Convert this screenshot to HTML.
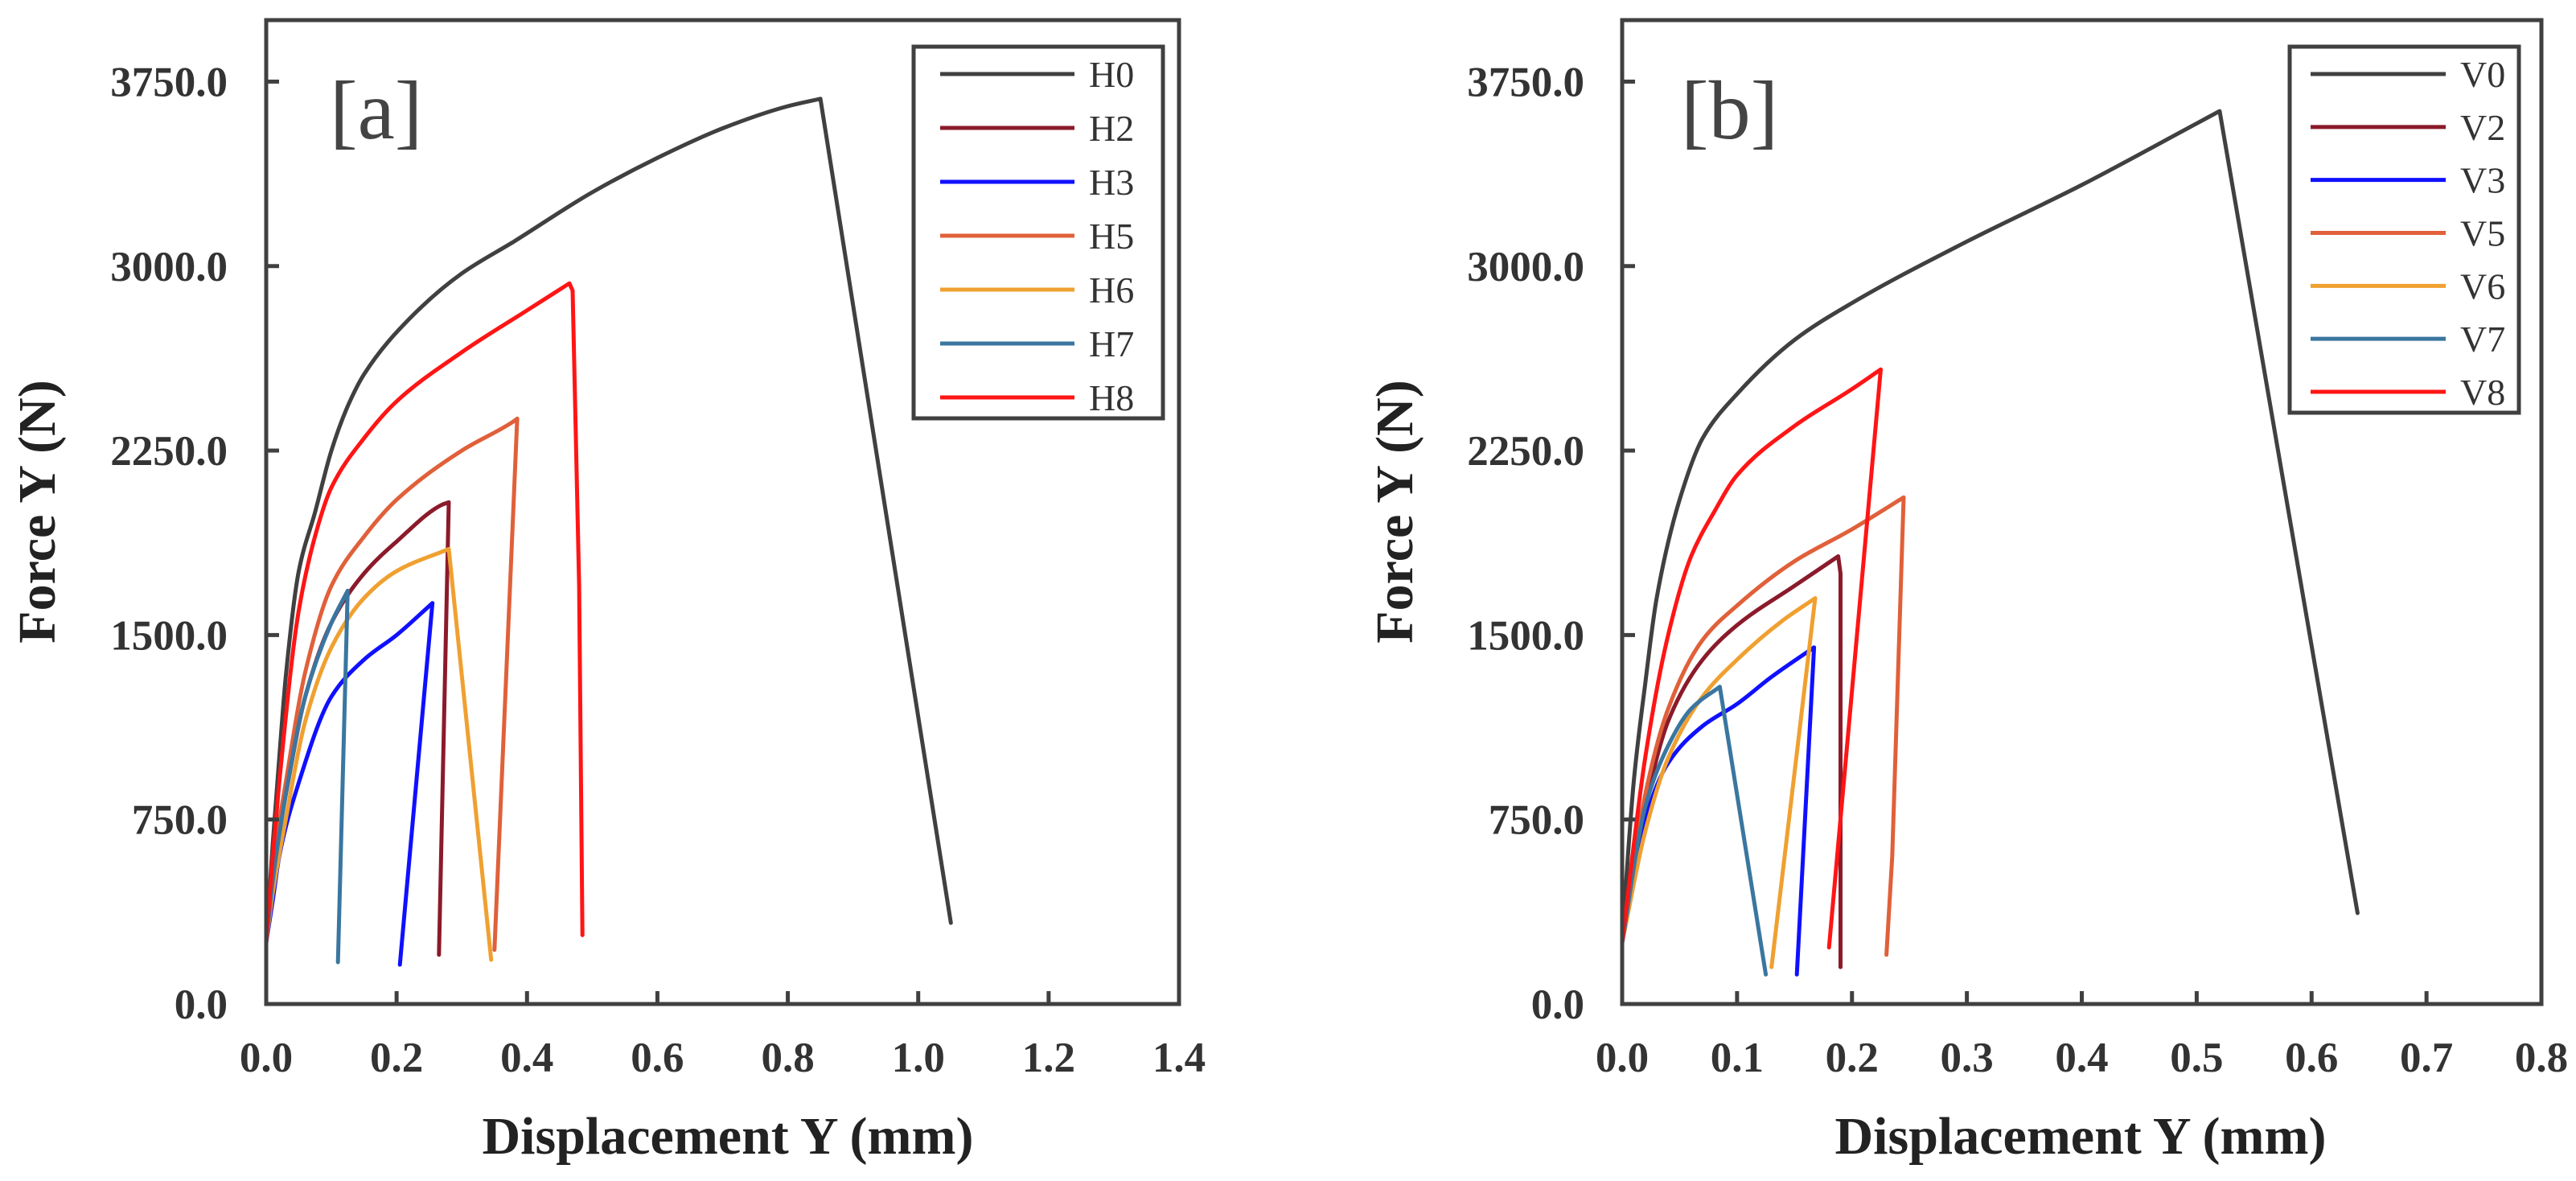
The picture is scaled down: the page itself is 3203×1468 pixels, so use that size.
<!DOCTYPE html>
<html><head><meta charset="utf-8"><style>
html,body{margin:0;padding:0;background:#fff;}
svg{display:block;}
text{font-family:"Liberation Serif",serif;}
</style></head><body>
<svg id="chart" width="3203" height="1468" viewBox="0 0 3203 1468" xmlns="http://www.w3.org/2000/svg"></svg>
<script>
// ---- Panel A data ----
const aNames = ["H0","H2","H3","H5","H6","H7","H8"];
const aColors = ["#404040","#8b1a2b","#1010ff","#e0603a","#f0a030","#3a76a0","#ff1515"];
const aH0x = [0,0.01,0.02,0.03,0.05,0.075,0.1,0.125,0.15,0.225,0.3,0.38,0.5,0.6,0.7,0.8,0.85,1.05];
const aH0y = [250,650,1000,1330,1760,2000,2250,2430,2560,2800,2970,3100,3300,3440,3560,3650,3680,330];
const aH2x = [0,0.01,0.03,0.06,0.1,0.15,0.2,0.27,0.28,0.265];
const aH2y = [250,550,850,1250,1550,1750,1880,2030,2040,200];
const aH3x = [0,0.01,0.02,0.05,0.1,0.15,0.2,0.255,0.205];
const aH3y = [250,420,600,900,1250,1400,1500,1630,160];
const aH5x = [0,0.01,0.03,0.06,0.1,0.15,0.2,0.3,0.38,0.385,0.35];
const aH5y = [250,550,900,1350,1700,1900,2050,2250,2370,2380,220];
const aH6x = [0,0.01,0.03,0.06,0.1,0.15,0.2,0.28,0.345];
const aH6y = [250,450,750,1150,1450,1650,1760,1850,180];
const aH7x = [0,0.01,0.03,0.06,0.1,0.125,0.11];
const aH7y = [250,500,850,1250,1550,1680,170];
const aH8x = [0,0.01,0.02,0.05,0.08,0.1,0.15,0.2,0.3,0.4,0.465,0.47,0.48,0.485];
const aH8y = [250,600,900,1600,1950,2100,2300,2450,2650,2820,2930,2900,1700,280];
const aX = [aH0x,aH2x,aH3x,aH5x,aH6x,aH7x,aH8x];
const aY = [aH0y,aH2y,aH3y,aH5y,aH6y,aH7y,aH8y];
const aXTicks = ["0.0","0.2","0.4","0.6","0.8","1.0","1.2","1.4"];
// ---- Panel B data ----
const bNames = ["V0","V2","V3","V5","V6","V7","V8"];
const bV0x = [0,0.005,0.01,0.02,0.03,0.05,0.07,0.1,0.15,0.2,0.3,0.4,0.5,0.52,0.64];
const bV0y = [250,600,900,1300,1650,2050,2300,2480,2700,2850,3100,3330,3580,3630,370];
const bV2x = [0,0.02,0.04,0.07,0.1,0.15,0.188,0.19,0.19];
const bV2y = [250,800,1150,1400,1540,1700,1820,1750,150];
const bV3x = [0,0.02,0.04,0.07,0.1,0.13,0.167,0.152];
const bV3y = [250,750,980,1130,1220,1330,1450,120];
const bV5x = [0,0.02,0.04,0.07,0.1,0.15,0.2,0.245,0.235,0.23];
const bV5y = [250,850,1200,1480,1620,1800,1930,2060,600,200];
const bV6x = [0,0.02,0.04,0.07,0.1,0.14,0.168,0.13];
const bV6y = [250,700,1000,1250,1400,1560,1650,150];
const bV7x = [0,0.02,0.04,0.06,0.085,0.125];
const bV7y = [250,800,1050,1200,1290,120];
const bV8x = [0,0.02,0.04,0.06,0.08,0.1,0.15,0.2,0.225,0.18];
const bV8y = [250,1000,1500,1820,2000,2150,2350,2500,2580,230];
const bX = [bV0x,bV2x,bV3x,bV5x,bV6x,bV7x,bV8x];
const bY = [bV0y,bV2y,bV3y,bV5y,bV6y,bV7y,bV8y];
const bXTicks = ["0.0","0.1","0.2","0.3","0.4","0.5","0.6","0.7","0.8"];
const yTicks = ["0.0","750.0","1500.0","2250.0","3000.0","3750.0"];

const NS="http://www.w3.org/2000/svg";
const svg=document.getElementById('chart');
function mk(tag,attrs,parent){const e=document.createElementNS(NS,tag);for(const k in attrs)e.setAttribute(k,attrs[k]);(parent||svg).appendChild(e);return e;}

// monotone cubic (Fritsch-Carlson) up to peak, straight lines afterwards
function pathFor(px,py){
  let peak=0;py.forEach((v,i)=>{if(v<py[peak])peak=i;}); // pixel y: smaller = higher
  const n=peak+1;
  let d='M'+px[0].toFixed(1)+' '+py[0].toFixed(1);
  if(n>1){
    const dx=[],m=[];
    for(let i=0;i<n-1;i++){dx.push(px[i+1]-px[i]);m.push((py[i+1]-py[i])/(px[i+1]-px[i]));}
    const t=new Array(n);
    t[0]=m[0];t[n-1]=m[n-2];
    for(let i=1;i<n-1;i++){
      if(m[i-1]*m[i]<=0)t[i]=0;
      else{const w1=2*dx[i]+dx[i-1],w2=dx[i]+2*dx[i-1];t[i]=(w1+w2)/(w1/m[i-1]+w2/m[i]);}
    }
    for(let i=0;i<n-1;i++){
      const h=dx[i];
      d+=' C'+(px[i]+h/3).toFixed(1)+' '+(py[i]+t[i]*h/3).toFixed(1)+' '+(px[i+1]-h/3).toFixed(1)+' '+(py[i+1]-t[i+1]*h/3).toFixed(1)+' '+px[i+1].toFixed(1)+' '+py[i+1].toFixed(1);
    }
  }
  for(let i=peak+1;i<px.length;i++) d+=' L'+px[i].toFixed(1)+' '+py[i].toFixed(1);
  return d;
}

function panel(cfg){
  const g=mk('g',{});
  
  
  const L=cfg.left,R=cfg.right,T=25,B=1248;
  const xs=v=>L+(v/cfg.xmax)*(R-L);
  const ys=v=>B-(v/4000)*(B-T);
  cfg.xs.forEach((xa,i)=>{
    const d=pathFor(xa.map(xs),cfg.ys[i].map(ys));
    const p=mk('path',{d:d,fill:'none',stroke:cfg.colors[i],'stroke-width':5,'stroke-linejoin':'round','stroke-linecap':'round'},g);
    
    
  });
  const box=mk('rect',{x:L,y:T,width:R-L,height:B-T,fill:'none',stroke:'#404040','stroke-width':5},g);
  
  
  yTicks.forEach(t=>{
    const v=parseFloat(t),y=ys(v);
    if(v>0) mk('line',{x1:L,x2:L+16,y1:y,y2:y,stroke:'#404040','stroke-width':5},g);
    const tx=mk('text',{x:cfg.yLabelX,y:y+18,'text-anchor':'end','font-size':53,'font-weight':'bold',fill:'#333'},g);
    tx.textContent=t;
    
    
  });
  cfg.xTicks.forEach(t=>{
    const v=parseFloat(t),x=xs(v);
    if(v>0&&v<cfg.xmax) mk('line',{x1:x,x2:x,y1:B,y2:B-16,stroke:'#404040','stroke-width':5},g);
    const tx=mk('text',{x:x,y:1332,'text-anchor':'middle','font-size':53,'font-weight':'bold',fill:'#333'},g);
    tx.textContent=t;
    
    
  });
  const xt=mk('text',{x:cfg.xTitleX,y:1434,'text-anchor':'middle','font-size':66,'font-weight':'bold',fill:'#222'},g);
  xt.textContent='Displacement Y (mm)';
  
  
  const yt=mk('text',{x:0,y:0,'text-anchor':'middle','font-size':66,'font-weight':'bold',fill:'#222',transform:'translate('+(cfg.yTitleX+22)+',636) rotate(-90)'},g);
  yt.textContent='Force Y (N)';
  
  
  const pl=mk('text',{x:cfg.tagX,y:172,'font-size':104,fill:'#444'},g);
  pl.textContent=cfg.tag;
  
  
  const lg=mk('g',{},g);
  
  
  mk('rect',{x:cfg.lg[0],y:58,width:cfg.lg[1]-cfg.lg[0],height:cfg.lg[2]-58,fill:'#fff',stroke:'#404040','stroke-width':5},lg);
  const step=(cfg.lg[2]-58-60)/6;
  cfg.names.forEach((n,i)=>{
    const y=92+i*step;
    const e=mk('g',{},lg);
    
    
    mk('line',{x1:cfg.lg[3],x2:cfg.lg[4],y1:y,y2:y,stroke:cfg.colors[i],'stroke-width':5},e);
    const t=mk('text',{x:cfg.lg[4]+18,y:y+16,'font-size':46,fill:'#333'},e);
    t.textContent=n;
  });
}
panel({id:'panel-a',left:331,right:1466,xmax:1.4,xs:aX,ys:aY,names:aNames,colors:aColors,xTicks:aXTicks,
  yLabelX:283,xTitleX:905,yTitleX:46,tag:'[a]',tagX:410,lg:[1136,1446,520,1169,1336]});
panel({id:'panel-b',left:2017,right:3160,xmax:0.8,xs:bX,ys:bY,names:bNames,colors:aColors,xTicks:bXTicks,
  yLabelX:1970,xTitleX:2587,yTitleX:1734,tag:'[b]',tagX:2090,lg:[2847,3132,513,2873,3041]});
</script>
</body></html>
